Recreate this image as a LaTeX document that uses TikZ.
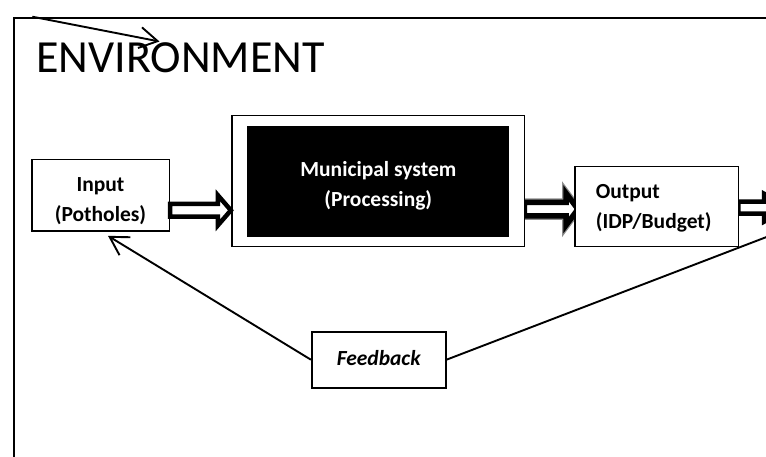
\documentclass[tikz,border=0pt]{standalone}
\usepackage{fontspec}
\setmainfont{Carlito}
\usetikzlibrary{calc,arrows.meta}

\tikzset{
  box/.style={draw, line width=1.6pt, fill=white, inner sep=0pt},
  boxtext/.style={inner sep=0pt, align=center,
    font=\bfseries\fontsize{21.5}{30}\selectfont},
  blockarr/.style={draw=black, fill=white, line width=4.5pt, miter limit=10},
  fbline/.style={draw, line width=1.9pt},
  barb/.style={-{Straight Barb[length=18pt,width=21pt]}},
}

% block arrow: #2 = tail point, #3 = tip point, #4 = shaft half-height,
% #5 = head half-height, #6 = head length
\newcommand\blockarrow[6][]{%
  \draw[blockarr,#1] ($(#2)+(0,-#4)$) -- ($(#3)+(-#6,-#4)$) -- ($(#3)+(-#6,-#5)$)
    -- (#3) -- ($(#3)+(-#6,#5)$) -- ($(#3)+(-#6,#4)$) -- ($(#2)+(0,#4)$) -- cycle;}

\begin{document}
\begin{tikzpicture}[x=1pt,y=-1pt]
\useasboundingbox (0,0) rectangle (766,457);
\clip (0,0) rectangle (766,457);
\fill[white] (0,0) rectangle (766,457);

% surrounding environment frame
\node[draw, line width=2pt, inner sep=0pt, anchor=north west,
      minimum width=900pt, minimum height=600pt] (env) at (13.3,16.7) {};
\node[anchor=base west, inner sep=0pt, font=\fontsize{46}{46}\selectfont]
  (envlabel) at (36,72.2) {ENVIRONMENT};
\coordinate (envstart) at ($(env.north west)+(19,0)$);
\coordinate (envend) at (159.5,41.5);
\draw[line width=1.9pt, barb] (envstart) -- (envend);

% arrows between the boxes (drawn first, boxes cover their ends)
\coordinate (inA) at (169.3,210.3);
\coordinate (muA) at (232,210.3);
\coordinate (muB) at (524.3,209.2);
\coordinate (ouA) at (578,209.2);
\coordinate (ouB) at (738.3,207.7);
\coordinate (exB) at (790,207.7);

% municipal -> output, slightly soft edge
\blockarrow[draw=black!45, line width=8pt]{muB}{ouA}{6.75}{16}{12}
\blockarrow[line width=5.5pt]{muB}{ouA}{6.75}{16}{12}
% output -> outside
\blockarrow{ouB}{exB}{6}{14}{26}

% boxes
\node[box, minimum width=137.6pt, minimum height=71.7pt] (input) at (100.5,195.2) {};
\node[boxtext] (inputtxt) at ($(input.center)+(0,5.5)$) {Input\\(Potholes)};

\node[box, minimum width=292.6pt, minimum height=131pt] (muni) at (378,181.2) {};
\node[fill=black, inner sep=0pt, minimum width=262pt, minimum height=111.3pt]
  (proc) at (378.3,181.7) {};
\node[boxtext, text=white] (proctxt) at ($(proc.center)+(0,4.5)$)
  {Municipal system\\(Processing)};

\node[box, minimum width=163.3pt, minimum height=80pt] (output) at (656.7,206.7) {};
\node[boxtext, align=left] (outputtxt) at ($(output.center)+(-3,2)$)
  {Output\\(IDP/Budget)};

\node[box, minimum width=134pt, minimum height=56pt] (feedback) at (378.7,359.7) {};
\node[boxtext, font=\bfseries\itshape\fontsize{21.5}{30}\selectfont]
  (feedbacktxt) at ($(feedback.center)+(0,-2)$) {Feedback};

% input -> municipal
\blockarrow{input.east |- inA}{muni.west |- muA}{6.4}{15}{13}

% feedback loop
\coordinate (intip) at ($(input.south)+(7.5,4)$);
\draw[fbline, barb] (feedback.west) -- (intip);
\draw[fbline] (feedback.east) -- ($(feedback.east)!1.3!(output.south east)$);
\end{tikzpicture}
\end{document}
